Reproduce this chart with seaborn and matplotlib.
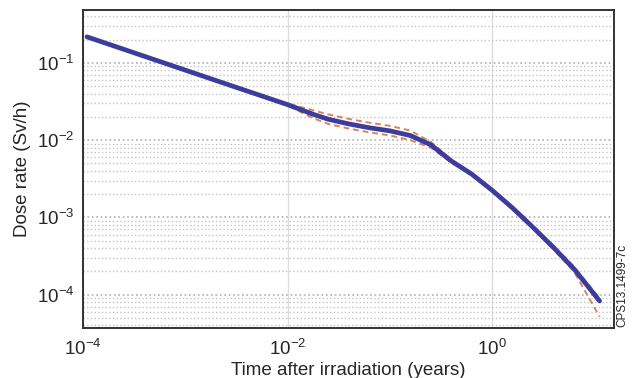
import numpy as np
import pandas as pd
import matplotlib
matplotlib.use("Agg")
import matplotlib.pyplot as plt
import matplotlib.ticker as mticker
import seaborn as sns

# ---- data ----
time_years = [1.096e-4, 3.16e-4, 1.0e-3, 3.16e-3, 1.0e-2, 1.78e-2, 2.51e-2, 3.98e-2,
              6.31e-2, 0.100, 0.158, 0.251, 0.398, 0.631, 1.0, 1.585, 2.512,
              3.98, 6.31, 11.2]
dose_mid = [0.2168, 0.1349, 0.0805, 0.0481, 0.0288, 0.0216, 0.0186, 0.0162,
            0.01445, 0.01318, 0.01148, 0.00871, 0.00537, 0.00363, 0.00224,
            0.00132, 0.000741, 0.000407, 0.000215, 0.0000830]
dose_upper = [0.219, 0.136, 0.0812, 0.0486, 0.0297, 0.0243, 0.0215, 0.0188,
              0.0168, 0.0153, 0.0133, 0.0095, 0.00562, 0.00375, 0.00231,
              0.00137, 0.000768, 0.000428, 0.000232, 0.0000900]
dose_lower = [0.2146, 0.1336, 0.0798, 0.0476, 0.0280, 0.0192, 0.0162, 0.0141,
              0.0126, 0.01150, 0.0100, 0.00800, 0.00512, 0.00351, 0.00217,
              0.00127, 0.000714, 0.000385, 0.000198, 0.0000520]

df = pd.DataFrame({"t": time_years * 3,
                   "dose": dose_upper + dose_lower + dose_mid,
                   "kind": ["upper"] * len(time_years) + ["lower"] * len(time_years)
                           + ["mid"] * len(time_years)})

sns.set_style("white")
plt.rcParams["font.family"] = ["Liberation Sans", "DejaVu Sans"]
plt.rcParams["mathtext.fontset"] = "custom"
plt.rcParams["mathtext.rm"] = "Liberation Sans"
plt.rcParams["mathtext.it"] = "Liberation Sans:italic"
plt.rcParams["mathtext.bf"] = "Liberation Sans:bold"

fig = plt.figure(figsize=(6.33, 3.78), dpi=100)
ax = fig.add_axes([0.131, 0.132, 0.839, 0.842])

ax.set_xscale("log")
ax.set_yscale("log")
ax.set_xlim(1e-4, 15.5)
ax.set_ylim(3.7e-5, 0.485)

# grid: dotted gray horizontals at every y tick, faint verticals at major x
ax.yaxis.set_major_locator(mticker.LogLocator(base=10, numticks=10))
ax.yaxis.set_minor_locator(mticker.LogLocator(base=10, subs=np.arange(2, 10), numticks=20))
ax.grid(True, which="major", axis="y", color="#b0b0b0", linestyle=":", linewidth=1.2)
ax.grid(True, which="minor", axis="y", color="#c4c4c4", linestyle=":", linewidth=1.0)
ax.grid(True, which="major", axis="x", color="#dddddd", linestyle="-", linewidth=1.0)

sns.lineplot(data=df[df.kind == "upper"], x="t", y="dose", ax=ax, color="#d9855a",
             linestyle=(0, (3, 2)), linewidth=1.4, zorder=3)
sns.lineplot(data=df[df.kind == "lower"], x="t", y="dose", ax=ax, color="#d9855a",
             linestyle=(0, (3, 2)), linewidth=1.4, zorder=3)
sns.lineplot(data=df[df.kind == "mid"], x="t", y="dose", ax=ax, color="#3b3c9c",
             linewidth=3.4, zorder=4)

ax.set_xticks([1e-4, 1e-2, 1e0])
ax.xaxis.set_minor_locator(mticker.NullLocator())
ax.xaxis.set_major_formatter(mticker.LogFormatterSciNotation())

ax.tick_params(axis="both", which="major", direction="in", length=10, width=1.2,
               color="#222222", labelsize=13.5, pad=6)
ax.tick_params(axis="y", which="minor", direction="in", length=5, width=1.0,
               color="#222222")
ax.tick_params(axis="x", which="major", pad=8)

for s in ax.spines.values():
    s.set_color("#333333")
    s.set_linewidth(1.4)

ax.set_xlabel("Time after irradiation (years)", fontsize=13.5, labelpad=2)
ax.set_ylabel("Dose rate (Sv/h)", fontsize=13.5, labelpad=4)

fig.text(0.983, 0.246, "CPS13.1499-7c", rotation=90, fontsize=8.5,
         ha="center", va="center")

fig.savefig("out.png", dpi=100)
